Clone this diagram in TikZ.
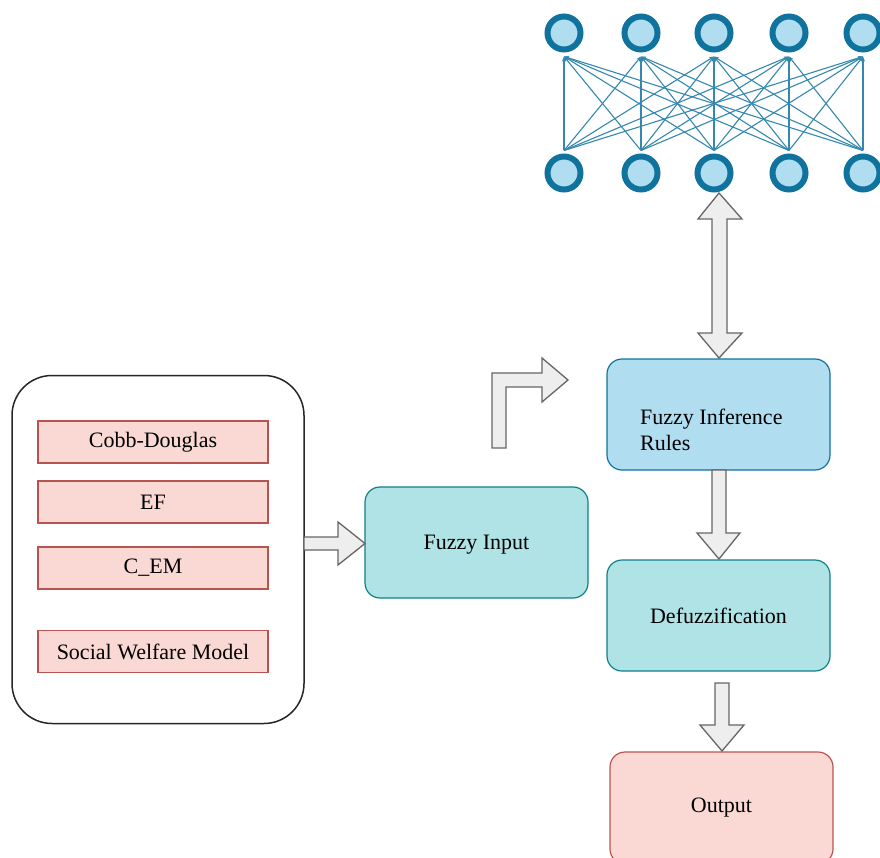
\documentclass[tikz,border=0pt]{standalone}
\usepackage{fontspec}
\setmainfont{Liberation Serif}
\usetikzlibrary{arrows.meta}
\definecolor{netblue}{HTML}{10739E}
\definecolor{netfill}{HTML}{B1DDF0}
\definecolor{tealfill}{HTML}{B0E3E6}
\definecolor{tealline}{HTML}{0E8088}
\definecolor{pinkfill}{HTML}{FAD9D5}
\definecolor{pinkline}{HTML}{B85450}
\definecolor{arrfill}{HTML}{EEEEEE}
\definecolor{arrline}{HTML}{666666}
\begin{document}
\begin{tikzpicture}[x=1pt,y=-1pt,
  font=\fontsize{22}{26}\selectfont,
  container/.style={draw=black!85,line width=1.5pt,rounded corners=40pt,minimum width=292pt,minimum height=348pt,fill=white},
  pinkbox/.style={draw=pinkline,fill=pinkfill,line width=1.2pt,minimum width=230pt,minimum height=42pt,inner sep=0pt},
  tealbox/.style={draw=tealline,fill=tealfill,line width=1.2pt,rounded corners=15pt,minimum width=223pt,minimum height=111pt},
  bluebox/.style={draw=netblue,fill=netfill,line width=1.2pt,rounded corners=15pt,minimum width=223pt,minimum height=111pt},
  outbox/.style={draw=pinkline,fill=pinkfill,line width=1.2pt,rounded corners=15pt,minimum width=223pt,minimum height=112pt},
  blockarrow/.style={draw=arrline,fill=arrfill,line width=1.3pt,line join=miter},
  neuron/.style={circle,draw=netblue,fill=netfill,line width=6pt,minimum size=33pt,inner sep=0pt},
  netedge/.style={draw=netblue!85,line width=1.1pt,-{Stealth[length=5pt,width=4pt]}}
]
\useasboundingbox (0,0) rectangle (880,858);
\clip (0,0) rectangle (880,858);

% left container
\node[container] (cont) at (158,549.5) {};
\node[pinkbox] (cd) at (153,442) {Cobb-Douglas};
\node[pinkbox] (ef) at (153,502) {EF};
\node[pinkbox] (cem) at (153,568) {C\_EM};
\node[pinkbox] (swm) at (153,651.5) {Social Welfare Model};

% main boxes
\node[tealbox] (fi) at (476.5,542.5) {};
\node (fitext) at (476.5,545) {Fuzzy Input};
\node[bluebox] (fir) at (718.5,414.5) {};
\node[anchor=west,align=left,inner sep=0pt] (firtext) at (640,430) {Fuzzy Inference\\Rules};
\node[tealbox] (def) at (718.5,615.5) {};
\node (deftext) at (718.5,616) {Defuzzification};
\node[outbox] (out) at (721.5,808) {};
\node (outtext) at (721.5,808) {Output};

% neural network
\foreach \i/\x in {1/564,2/641,3/714,4/789,5/863}{
  \node[neuron] (t\i) at (\x,33) {};
  \node[neuron] (b\i) at (\x,173) {};
}
\foreach \i in {1,...,5}{
  \foreach \j in {1,...,5}{
    \draw[netedge] ([yshift=3pt]b\i.north) -- ([yshift=-4pt]t\j.south);
  }
}

% block arrows
\draw[blockarrow] (304,537) -- (338,537) -- (338,522) -- (365,543.5) -- (338,565) -- (338,550) -- (304,550) -- cycle;
\draw[blockarrow] (492,448) -- (492,373) -- (542,373) -- (542,358) -- (568,380) -- (542,402) -- (542,387) -- (506,387) -- (506,448) -- cycle;
\draw[blockarrow] (719,193) -- (742,219) -- (727,219) -- (727,333) -- (742,333) -- (719,358) -- (698,333) -- (712,333) -- (712,219) -- (698,219) -- cycle;
\draw[blockarrow] (712,470) -- (726,470) -- (726,533) -- (740,533) -- (719,559) -- (697,533) -- (712,533) -- cycle;
\draw[blockarrow] (715,683) -- (729,683) -- (729,725) -- (744,725) -- (722,751) -- (700,725) -- (715,725) -- cycle;
\end{tikzpicture}
\end{document}
